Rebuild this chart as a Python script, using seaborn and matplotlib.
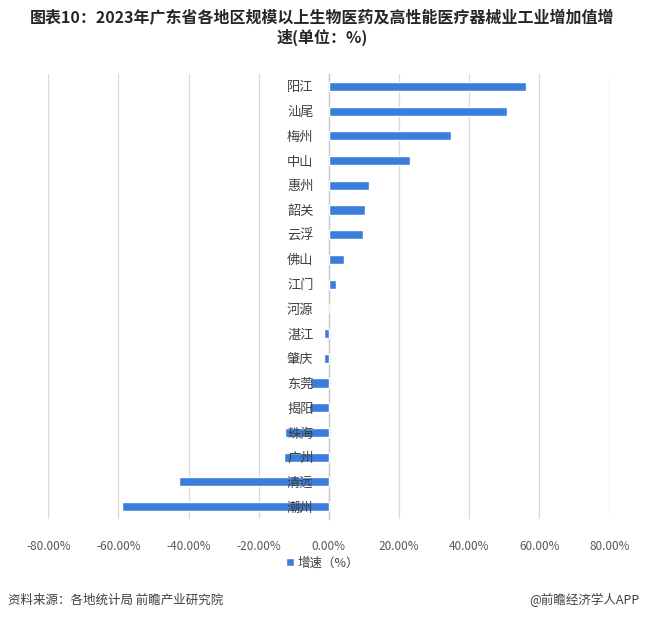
import matplotlib
matplotlib.use("Agg")
import matplotlib.pyplot as plt
from matplotlib.patches import Patch
from matplotlib.ticker import FuncFormatter
import seaborn as sns
import pandas as pd

regions = ["阳江", "汕尾", "梅州", "中山", "惠州", "韶关", "云浮", "佛山", "江门", "河源",
           "湛江", "肇庆", "东莞", "揭阳", "珠海", "广州", "清远", "潮州"]
growth = [56.3, 50.9, 34.9, 23.1, 11.4, 10.3, 9.7, 4.3, 2.0, 0.0,
          -1.5, -1.5, -5.5, -5.7, -12.6, -12.9, -42.6, -58.9]
xticks = [-80, -60, -40, -20, 0, 20, 40, 60, 80]
series_name = "增速（%）"
title = "图表10：2023年广东省各地区规模以上生物医药及高性能医疗器械业工业增加值增\n速(单位：%)"
source = "资料来源：各地统计局 前瞻产业研究院"
credit = "@前瞻经济学人APP"

df = pd.DataFrame({"region": regions, "growth": growth})

sns.set_theme(style="white")
plt.rcParams["font.family"] = ["Noto Sans CJK SC", "DejaVu Sans"]

bar_color = "#3a7ddb"
fig = plt.figure(figsize=(6.45, 6.19), dpi=100)
ax = fig.add_axes([48.3 / 645, 1 - 519 / 619, (609.3 - 48.3) / 645, (519 - 74) / 619])

sns.barplot(data=df, x="growth", y="region", orient="h", color=bar_color,
            width=0.37, saturation=1, ax=ax)

ax.set_xlim(-80, 80)
ax.set_ylim(17.5, -0.5)
ax.set_xticks(xticks)
ax.xaxis.set_major_formatter(FuncFormatter(lambda v, p: f"{v:.2f}%"))
ax.grid(axis="x", color="#d9d9d9", linewidth=0.9)
ax.xaxis.set_zorder(0.5)
ax.yaxis.set_zorder(5)
for s in ["top", "right", "bottom"]:
    ax.spines[s].set_visible(False)
ax.spines["left"].set_position(("data", 0))
ax.spines["left"].set_color("#c8c8c8")
ax.spines["left"].set_linewidth(1.0)
ax.spines["left"].set_zorder(0.6)
ax.tick_params(axis="y", length=0, pad=11, labelsize=9.5, labelcolor="#404040")
ax.tick_params(axis="x", length=0, pad=15, labelsize=8.5, labelcolor="#595959")
ax.set_xlabel("")
ax.set_ylabel("")

fig.text(0.5, 1 - 28 / 619, title, ha="center", va="center", fontsize=11.5,
         fontweight="bold", color="#262626", linespacing=1.15)

fig.legend(handles=[Patch(facecolor=bar_color, label=series_name)],
           loc="center", bbox_to_anchor=(0.5, 1 - 563 / 619), frameon=False,
           handlelength=0.6, handleheight=0.6, handletextpad=0.3,
           prop={"size": 9}, labelcolor="#404040")

fig.text(8 / 645, 1 - 600 / 619, source, ha="left", va="center", fontsize=9, color="#404040")
fig.text(640 / 645, 1 - 600 / 619, credit, ha="right", va="center", fontsize=9, color="#404040")

fig.savefig("out.png", dpi=100)
